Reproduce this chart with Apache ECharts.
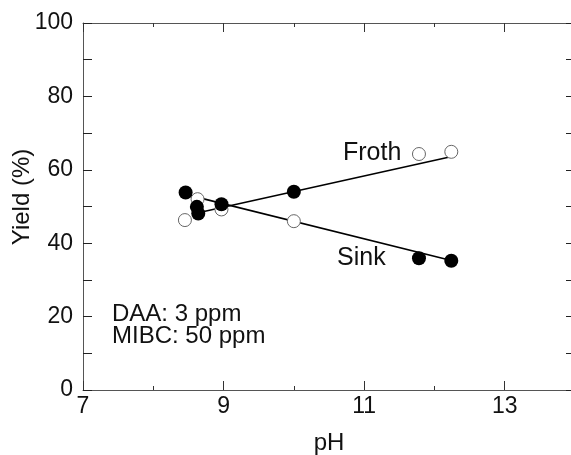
<!DOCTYPE html>
<html>
<head>
<meta charset="utf-8">
<script src="https://cdn.jsdelivr.net/npm/echarts@6/dist/echarts.min.js"></script>
<style>html,body{margin:0;padding:0;background:#fff;}#c{width:571px;height:455px;}</style>
</head>
<body>
<div id="c"></div>
<script>
// Froth (open circles)
const phFroth = [8.45, 8.63, 8.97, 10.0, 11.78, 12.24];
const yieldFroth = [46.3, 52.0, 49.2, 46.0, 64.3, 64.9];
// Sink (filled circles)
const phSink = [8.46, 8.62, 8.64, 8.97, 10.0, 11.78, 12.24];
const yieldSink = [53.8, 49.9, 48.1, 50.6, 54.0, 35.9, 35.2];
// Fitted trend lines (endpoints)
const frothFitPh = [8.64, 12.2];
const frothFitYield = [48.3, 63.4];
const sinkFitPh = [8.46, 12.24];
const sinkFitYield = [53.3, 35.3];
// Axis settings
const xTicks = [7, 9, 11, 13];
const yTicks = [0, 20, 40, 60, 80, 100];
const annotations = ['Froth', 'Sink', 'DAA: 3 ppm', 'MIBC: 50 ppm'];

const pairs = (xs, ys) => xs.map((x, i) => [x, ys[i]]);
const FONT = '"Liberation Sans", Arial, sans-serif';

const chart = echarts.init(document.getElementById('c'), null, {renderer: 'canvas'});
const axisLine = {show: true, onZero: false, lineStyle: {color: '#555', width: 1}};
const xBase = {
  type: 'value', min: 7, max: 14, interval: 2,
  splitLine: {show: false}, axisLine: axisLine,
  axisTick: {inside: true, length: 9, lineStyle: {color: '#333'}},
  minorTick: {show: true, splitNumber: 2, length: 4, lineStyle: {color: '#333'}},
  minorSplitLine: {show: false}
};
const yBase = {
  type: 'value', min: 0, max: 100, interval: 10,
  splitLine: {show: false}, axisLine: axisLine,
  axisTick: {inside: true, length: 9, lineStyle: {color: '#222'}}
};
chart.setOption({
  animation: false,
  backgroundColor: '#fff',
  grid: {left: 83, top: 23, width: 492, height: 367, containLabel: false, outerBoundsMode: 'none'},
  xAxis: [
    Object.assign({}, xBase, {
      position: 'bottom', name: 'pH', nameLocation: 'middle', nameGap: 41, nameMoveOverlap: false,
      nameTextStyle: {fontFamily: FONT, fontSize: 24, color: '#111'},
      axisLabel: {show: true, margin: 5, fontFamily: FONT, fontSize: 23, color: '#111',
        formatter: v => xTicks.includes(v) ? String(v) : ''}
    }),
    Object.assign({}, xBase, {position: 'top', axisLabel: {show: false}})
  ],
  yAxis: [
    Object.assign({}, yBase, {
      position: 'left', name: 'Yield (%)', nameLocation: 'middle', nameGap: 49, nameMoveOverlap: false,
      nameTextStyle: {fontFamily: FONT, fontSize: 24, color: '#111', padding: [0, 0, 0, 19]},
      axisLabel: {show: true, margin: 10, fontFamily: FONT, fontSize: 23, color: '#111',
        formatter: v => yTicks.includes(v) ? String(v) : ''}
    }),
    Object.assign({}, yBase, {position: 'right', axisLabel: {show: false}})
  ],
  series: [
    {type: 'line', name: 'Froth fit', data: pairs(frothFitPh, frothFitYield), symbol: 'none',
     lineStyle: {color: '#000', width: 1.6}, z: 2, silent: true},
    {type: 'line', name: 'Sink fit', data: pairs(sinkFitPh, sinkFitYield), symbol: 'none',
     lineStyle: {color: '#000', width: 1.6}, z: 2, silent: true},
    {type: 'scatter', name: 'Froth', data: pairs(phFroth, yieldFroth), symbol: 'circle', symbolSize: 13,
     itemStyle: {color: '#fff', borderColor: '#666', borderWidth: 1, opacity: 1}, z: 3},
    {type: 'scatter', name: 'Sink', data: pairs(phSink, yieldSink), symbol: 'circle', symbolSize: 14,
     itemStyle: {color: '#000', borderColor: '#000', borderWidth: 0, opacity: 1}, z: 4}
  ],
  graphic: [
    {type: 'text', left: 343, top: 154 - 13, style: {text: annotations[0], font: '25px ' + FONT, fill: '#111'}},
    {type: 'text', left: 337, top: 258 - 12, style: {text: annotations[1], font: '25px ' + FONT, fill: '#111'}},
    {type: 'text', left: 112, top: 315 - 13, style: {text: annotations[2], font: '24px ' + FONT, fill: '#111'}},
    {type: 'text', left: 112, top: 337 - 13, style: {text: annotations[3], font: '24px ' + FONT, fill: '#111'}}
  ]
});
</script>
</body>
</html>
